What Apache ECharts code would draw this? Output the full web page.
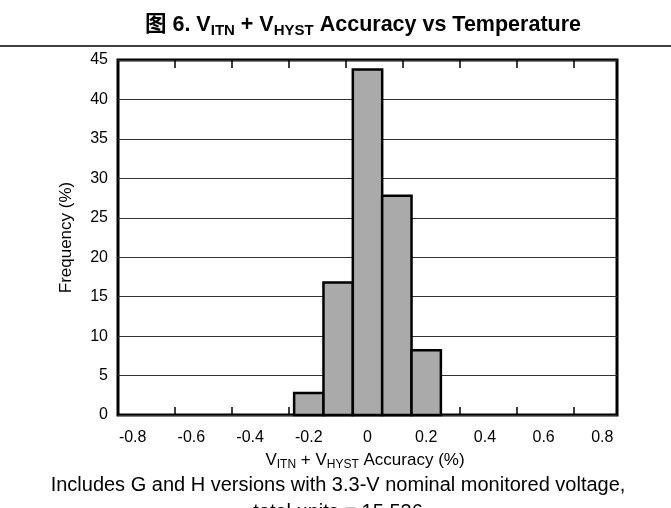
<!DOCTYPE html>
<html><head><meta charset="utf-8">
<script src="https://cdn.jsdelivr.net/npm/echarts@6/dist/echarts.min.js"></script>
<style>html,body{margin:0;padding:0;background:#fff}#c{width:671px;height:508px}</style>
</head><body><div id="c"></div>
<script>
// ---- data ----
const binCenters = [-0.2, -0.1, 0, 0.1, 0.2];
const frequency = [2.8, 16.8, 43.8, 27.8, 8.2];
const binWidth = 0.1;
const xLabelValues = [-0.8, -0.6, -0.4, -0.2, 0, 0.2, 0.4, 0.6, 0.8];
const xTickValues = [-0.658, -0.463, -0.269, -0.074, 0.120, 0.315, 0.509, 0.704];
const xMin = -0.85, xMax = 0.85;
const yMin = 0, yMax = 45, yStep = 5;
const titleParts = ['图 6. V', 'ITN', ' + V', 'HYST', ' Accuracy vs Temperature'];
const xNameParts = ['V', 'ITN', ' + V', 'HYST', ' Accuracy (%)'];
const yName = 'Frequency (%)';
const footerLines = ['Includes G and H versions with 3.3-V nominal monitored voltage,', 'total units = 15 536'];

// ---- chart ----
const font = '"Liberation Sans", Arial, "Noto Sans CJK SC", sans-serif';
function richSub(parts, tag, stag) {
  return parts.map((p, i) => '{' + (i % 2 ? stag : tag) + '|' + p + '}').join('');
}
const chart = echarts.init(document.getElementById('c'));
const tickCommon = { show: true, inside: true, length: 8, customValues: xTickValues, lineStyle: { color: '#000', width: 1.5 } };
chart.setOption({
  animation: false,
  textStyle: { fontFamily: font },
  grid: { left: 118, right: 54, top: 60, bottom: 93, show: true, borderColor: '#000', borderWidth: 3, backgroundColor: 'transparent' },
  xAxis: [
    { type: 'value', min: xMin, max: xMax, position: 'bottom',
      axisLine: { show: false }, splitLine: { show: false },
      axisTick: tickCommon,
      axisLabel: { customValues: xLabelValues, fontSize: 16, color: '#000', margin: 15, fontFamily: font,
        formatter: v => String(Math.round(v * 10) / 10) } },
    { type: 'value', min: xMin, max: xMax, position: 'top',
      axisLine: { show: false }, splitLine: { show: false },
      axisTick: tickCommon, axisLabel: { show: false } }
  ],
  yAxis: {
    type: 'value', min: yMin, max: yMax, interval: yStep,
    axisLine: { show: false }, axisTick: { show: false },
    splitLine: { show: true, lineStyle: { color: '#333', width: 1 } },
    axisLabel: { fontSize: 16, color: '#000', margin: 10, fontFamily: font },
    name: yName, nameLocation: 'middle', nameGap: 43,
    nameTextStyle: { fontSize: 17, color: '#000', fontFamily: font }
  },
  series: [{
    type: 'custom',
    xAxisIndex: 0,
    data: binCenters.map((c, i) => [c, frequency[i]]),
    encode: { x: 0, y: 1 },
    renderItem: function (params, api) {
      const c = api.value(0), v = api.value(1);
      const p0 = api.coord([c - binWidth / 2, v]);
      const p1 = api.coord([c + binWidth / 2, 0]);
      return { type: 'rect', shape: { x: p0[0], y: p0[1], width: p1[0] - p0[0], height: p1[1] - p0[1] },
        style: { fill: '#aaaaaa', stroke: '#000', lineWidth: 2.5 } };
    }
  }],
  graphic: [
    { type: 'line', shape: { x1: 0, y1: 46, x2: 671, y2: 46 }, style: { stroke: '#000', lineWidth: 1.5 } },
    { type: 'text', x: 363, y: 25, style: {
        text: richSub(titleParts, 't', 's'), align: 'center', verticalAlign: 'middle',
        rich: {
          t: { fontSize: 21.5, fontWeight: 'bold', fontFamily: font, fill: '#000', lineHeight: 26 },
          s: { fontSize: 15, fontWeight: 'bold', fontFamily: font, fill: '#000', lineHeight: 15, verticalAlign: 'bottom' }
        } } },
    { type: 'text', x: 365, y: 460, style: {
        text: richSub(xNameParts, 'a', 's'), align: 'center', verticalAlign: 'middle',
        rich: {
          a: { fontSize: 17, fontFamily: font, fill: '#000', lineHeight: 22 },
          s: { fontSize: 12, fontFamily: font, fill: '#000', lineHeight: 12, verticalAlign: 'bottom' }
        } } },
    { type: 'text', x: 338, y: 485, style: { text: footerLines[0], align: 'center', verticalAlign: 'middle',
        font: '20px ' + font, fill: '#000' } },
    { type: 'text', x: 338, y: 512, style: { text: footerLines[1], align: 'center', verticalAlign: 'middle',
        font: '20px ' + font, fill: '#000' } }
  ]
});
</script>
</body></html>
